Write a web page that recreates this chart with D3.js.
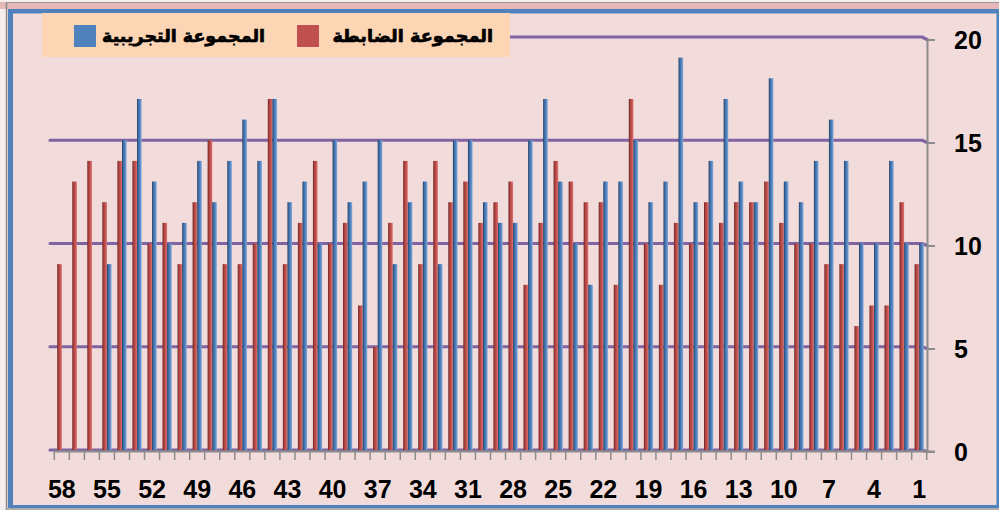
<!DOCTYPE html>
<html>
<head>
<meta charset="utf-8">
<script src="https://cdn.jsdelivr.net/npm/d3@7"></script>
<style>
  body { margin: 0; background: #fff; }
  svg { display: block; }
</style>
</head>
<body>
<div id="chart"></div>
<script>
// categories run 1..58, drawn right to left
var categories = [1,2,3,4,5,6,7,8,9,10,11,12,13,14,15,16,17,18,19,20,
                  21,22,23,24,25,26,27,28,29,30,31,32,33,34,35,36,37,38,39,40,
                  41,42,43,44,45,46,47,48,49,50,51,52,53,54,55,56,57,58];

// control group (red)
var controlValues = [9,12,7,7,6,9,9,10,10,11,13,12,12,11,12,10,11,8,10,17,
                     8,12,12,13,14,11,8,13,12,11,13,12,14,9,14,11,5,7,11,10,
                     14,11,9,17,10,9,9,15,12,9,11,10,14,14,12,14,13,9];

// experimental group (blue) - last three have no value
var experimentalValues = [10,10,14,10,10,14,16,14,12,13,18,12,13,17,14,12,19,13,12,15,
                          13,13,8,10,13,17,15,11,11,12,15,15,9,13,12,9,15,13,12,15,
                          10,13,12,17,14,16,14,12,14,11,10,13,17,15,9,null,null,null];

var xTickLabels = [1,4,7,10,13,16,19,22,25,28,31,34,37,40,43,46,49,52,55,58];
var yTicks = [0,5,10,15,20];

var seriesNames = ['المجموعة الضابطة', 'المجموعة التجريبية'];

var width = 999, height = 510;

var svg = d3.select('#chart')
    .append('svg')
    .attr('width', width)
    .attr('height', height);

// --- frame
svg.append('rect').attr('width', width).attr('height', height).attr('fill', '#f2dcdb');
svg.append('rect').attr('x', 0).attr('y', 0).attr('width', 7).attr('height', height).attr('fill', '#f5eeee');
svg.append('rect').attr('x', 0).attr('y', 0).attr('width', width).attr('height', 9).attr('fill', '#e6b9b8');
svg.append('rect').attr('x', 0).attr('y', 0).attr('width', width).attr('height', 2).attr('fill', '#f5eeee');
svg.append('line').attr('x1', 6.5).attr('x2', 6.5).attr('y1', 2).attr('y2', height)
    .style('stroke', '#8c8c8c').style('stroke-width', 1.5);
svg.append('line').attr('x1', 6).attr('x2', width).attr('y1', 2.5).attr('y2', 2.5)
    .style('stroke', '#9a9a9a').style('stroke-width', 1);
svg.append('line').attr('x1', 6).attr('x2', width).attr('y1', 509).attr('y2', 509)
    .style('stroke', '#9a9a9a').style('stroke-width', 1.5);
// blue border: thick on left/top, thin on right/bottom
svg.append('rect').attr('x', 8).attr('y', 9).attr('width', 5).attr('height', 499).attr('fill', '#4f81bd');
svg.append('rect').attr('x', 8).attr('y', 9).attr('width', 991).attr('height', 4.5).attr('fill', '#4f81bd');
svg.append('rect').attr('x', 996.5).attr('y', 9).attr('width', 2.5).attr('height', 499).attr('fill', '#4f81bd');
svg.append('rect').attr('x', 8).attr('y', 505).attr('width', 991).attr('height', 3).attr('fill', '#4f81bd');

// --- scales
var x = d3.scaleBand()
    .domain(categories.slice().reverse())
    .range([54.3, 926.7]);

var y = d3.scaleLinear().domain([0, 20]).range([450, 37]);       // back wall (bars, gridlines)
var yAxisScale = d3.scaleLinear().domain([0, 20]).range([451.5, 39.5]); // front axis

// gradients for the 3d-ish bars
var defs = svg.append('defs');
function makeGrad(id, stops) {
    var g = defs.append('linearGradient').attr('id', id)
        .attr('x1', '0%').attr('x2', '100%').attr('y1', '0%').attr('y2', '0%');
    stops.forEach(function(s) {
        g.append('stop').attr('offset', s[0]).attr('stop-color', s[1]);
    });
}
makeGrad('gradRed', [['0%', '#6e2422'], ['30%', '#a8403d'], ['60%', '#c0504d'], ['100%', '#dc7471']]);
makeGrad('gradBlue', [['0%', '#1f3b61'], ['30%', '#3e6ca4'], ['60%', '#4f81bd'], ['100%', '#86acdc']]);

// --- gridlines (with a small jog into the axis)
var gridG = svg.append('g');
yTicks.forEach(function(t) {
    var gy = y(t);
    gridG.append('path')
        .attr('d', 'M50,' + gy + 'L922,' + gy + 'L927,' + yAxisScale(t))
        .style('fill', 'none')
        .style('stroke', '#8064a2')
        .style('stroke-width', 3.2)
        .style('stroke-linecap', 'round')
        .style('stroke-linejoin', 'round');
});

// --- bars
var barW = 4.6;
var barsG = svg.append('g');

barsG.selectAll('.red')
    .data(categories)
    .enter()
    .append('rect')
    .attr('class', 'red')
    .attr('x', function(d) { return x(d) + x.bandwidth() / 2 - barW; })
    .attr('y', function(d, i) { return y(controlValues[i]); })
    .attr('width', barW)
    .attr('height', function(d, i) { return y(0) - y(controlValues[i]); })
    .style('fill', 'url(#gradRed)');

barsG.selectAll('.blue')
    .data(categories.filter(function(d, i) { return experimentalValues[i] != null; }))
    .enter()
    .append('rect')
    .attr('class', 'blue')
    .attr('x', function(d) { return x(d) + x.bandwidth() / 2; })
    .attr('y', function(d) { return y(experimentalValues[d - 1]); })
    .attr('width', barW)
    .attr('height', function(d) { return y(0) - y(experimentalValues[d - 1]); })
    .style('fill', 'url(#gradBlue)');

// --- y axis on the right
var yAxis = svg.append('g')
    .attr('transform', 'translate(927,0)')
    .call(d3.axisRight(yAxisScale)
        .tickValues(yTicks)
        .tickSize(8)
        .tickSizeOuter(0)
        .tickPadding(19));

yAxis.select('.domain').style('stroke', '#8c8c8c').style('stroke-width', 2);
yAxis.selectAll('.tick line').style('stroke', '#8c8c8c').style('stroke-width', 2);
yAxis.selectAll('.tick text')
    .attr('dy', '0.36em')
    .style('font-family', '"Liberation Sans", Arial, sans-serif')
    .style('font-weight', 'bold')
    .style('font-size', '25px')
    .style('fill', '#000');

// --- x axis: line, boundary ticks, labels every third category
var xAxisG = svg.append('g');
xAxisG.append('line')
    .attr('x1', 54).attr('x2', 935)
    .attr('y1', 451.5).attr('y2', 451.5)
    .style('stroke', '#8c8c8c').style('stroke-width', 2);

var bounds = categories.map(function(d) { return x(d); }).concat([x.range()[1]]);
xAxisG.selectAll('.xtick')
    .data(bounds)
    .enter()
    .append('line')
    .attr('class', 'xtick')
    .attr('x1', function(d) { return d; })
    .attr('x2', function(d) { return d; })
    .attr('y1', 451.5)
    .attr('y2', 460)
    .style('stroke', '#8c8c8c')
    .style('stroke-width', 1.5);

xAxisG.selectAll('.xlabel')
    .data(xTickLabels)
    .enter()
    .append('text')
    .attr('class', 'xlabel')
    .attr('x', function(d) { return x(d) + x.bandwidth() / 2; })
    .attr('y', 498)
    .attr('text-anchor', 'middle')
    .style('font-family', '"Liberation Sans", Arial, sans-serif')
    .style('font-weight', 'bold')
    .style('font-size', '25px')
    .text(function(d) { return d; });

// --- legend
var legend = svg.append('g');
legend.append('rect')
    .attr('x', 42).attr('y', 13)
    .attr('width', 468).attr('height', 44)
    .attr('fill', '#fcd5b5');

var legendItems = [
    {name: seriesNames[1], color: '#4f81bd', sq: 74, textEnd: 265, w: 163},
    {name: seriesNames[0], color: '#c0504d', sq: 297, textEnd: 493, w: 161}
];
legendItems.forEach(function(it) {
    legend.append('rect')
        .attr('x', it.sq).attr('y', 25)
        .attr('width', 22).attr('height', 22)
        .attr('fill', it.color);
    var t = legend.append('text')
        .attr('x', it.textEnd)
        .attr('y', 42)
        .attr('text-anchor', 'end')
        .style('font-family', '"DejaVu Sans", sans-serif')
        .style('font-weight', 'bold')
        .style('font-size', '20px')
        .style('stroke', '#000')
        .style('stroke-width', 0.7)
        .text(it.name);
    // shrink/grow the font so the label fills the same width as the original
    var len = t.node().getComputedTextLength();
    if (len > 0) t.style('font-size', (20 * it.w / len).toFixed(1) + 'px');
});
</script>
</body>
</html>
